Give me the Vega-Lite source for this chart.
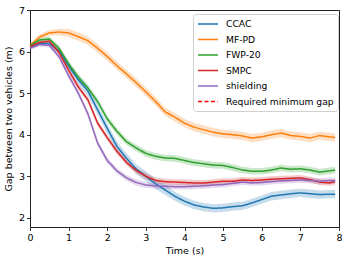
{
  "$schema": "https://vega.github.io/schema/vega-lite/v6.json",
  "width": 309,
  "height": 217,
  "autosize": {"type": "none"},
  "padding": {"left": 30, "top": 10, "right": 10, "bottom": 33},
  "config": {
    "font": "DejaVu Sans",
    "view": {"stroke": "#222", "strokeWidth": 1},
    "legend": {
      "orient": "none", "legendX": 163, "legendY": 4,
      "strokeColor": "#d0d0d0", "fillColor": "rgba(255,255,255,0.85)", "cornerRadius": 3,
      "padding": 4, "labelFontSize": 9.2, "labelFont": "DejaVu Sans", "labelColor": "#000",
      "symbolType": "M-1,0H3", "symbolSize": 100, "symbolStrokeWidth": 1.6,
      "labelOffset": 17, "rowPadding": 3.5
    }
  },
  "datasets": {
    "d": [
      {"s":"CCAC","t":0,"y":6.10,"lo":6.06,"hi":6.14},
      {"s":"CCAC","t":0.25,"y":6.20,"lo":6.15,"hi":6.25},
      {"s":"CCAC","t":0.5,"y":6.19,"lo":6.14,"hi":6.24},
      {"s":"CCAC","t":0.75,"y":6.02,"lo":5.95,"hi":6.09},
      {"s":"CCAC","t":1,"y":5.65,"lo":5.55,"hi":5.75},
      {"s":"CCAC","t":1.25,"y":5.32,"lo":5.20,"hi":5.44},
      {"s":"CCAC","t":1.5,"y":5.05,"lo":4.93,"hi":5.17},
      {"s":"CCAC","t":1.75,"y":4.60,"lo":4.48,"hi":4.72},
      {"s":"CCAC","t":2,"y":4.15,"lo":4.03,"hi":4.27},
      {"s":"CCAC","t":2.25,"y":3.72,"lo":3.60,"hi":3.84},
      {"s":"CCAC","t":2.5,"y":3.43,"lo":3.31,"hi":3.55},
      {"s":"CCAC","t":2.75,"y":3.17,"lo":3.05,"hi":3.29},
      {"s":"CCAC","t":3,"y":3.00,"lo":2.88,"hi":3.12},
      {"s":"CCAC","t":3.25,"y":2.82,"lo":2.70,"hi":2.94},
      {"s":"CCAC","t":3.5,"y":2.67,"lo":2.55,"hi":2.79},
      {"s":"CCAC","t":3.75,"y":2.52,"lo":2.41,"hi":2.63},
      {"s":"CCAC","t":4,"y":2.40,"lo":2.29,"hi":2.51},
      {"s":"CCAC","t":4.25,"y":2.31,"lo":2.21,"hi":2.41},
      {"s":"CCAC","t":4.5,"y":2.26,"lo":2.16,"hi":2.36},
      {"s":"CCAC","t":4.75,"y":2.23,"lo":2.13,"hi":2.33},
      {"s":"CCAC","t":5,"y":2.24,"lo":2.14,"hi":2.34},
      {"s":"CCAC","t":5.25,"y":2.27,"lo":2.17,"hi":2.37},
      {"s":"CCAC","t":5.5,"y":2.29,"lo":2.19,"hi":2.39},
      {"s":"CCAC","t":5.75,"y":2.36,"lo":2.26,"hi":2.46},
      {"s":"CCAC","t":6,"y":2.44,"lo":2.34,"hi":2.54},
      {"s":"CCAC","t":6.25,"y":2.52,"lo":2.42,"hi":2.62},
      {"s":"CCAC","t":6.5,"y":2.55,"lo":2.45,"hi":2.65},
      {"s":"CCAC","t":6.75,"y":2.58,"lo":2.48,"hi":2.68},
      {"s":"CCAC","t":7,"y":2.60,"lo":2.50,"hi":2.70},
      {"s":"CCAC","t":7.25,"y":2.58,"lo":2.48,"hi":2.68},
      {"s":"CCAC","t":7.5,"y":2.56,"lo":2.46,"hi":2.66},
      {"s":"CCAC","t":7.75,"y":2.57,"lo":2.47,"hi":2.67},
      {"s":"CCAC","t":7.9,"y":2.57,"lo":2.47,"hi":2.67},

      {"s":"MF-PD","t":0,"y":6.15,"lo":6.11,"hi":6.19},
      {"s":"MF-PD","t":0.25,"y":6.35,"lo":6.29,"hi":6.41},
      {"s":"MF-PD","t":0.5,"y":6.45,"lo":6.38,"hi":6.52},
      {"s":"MF-PD","t":0.75,"y":6.47,"lo":6.39,"hi":6.55},
      {"s":"MF-PD","t":1,"y":6.45,"lo":6.35,"hi":6.55},
      {"s":"MF-PD","t":1.25,"y":6.36,"lo":6.26,"hi":6.46},
      {"s":"MF-PD","t":1.5,"y":6.26,"lo":6.16,"hi":6.36},
      {"s":"MF-PD","t":1.75,"y":6.08,"lo":5.98,"hi":6.18},
      {"s":"MF-PD","t":2,"y":5.88,"lo":5.78,"hi":5.98},
      {"s":"MF-PD","t":2.25,"y":5.66,"lo":5.56,"hi":5.76},
      {"s":"MF-PD","t":2.5,"y":5.46,"lo":5.36,"hi":5.56},
      {"s":"MF-PD","t":2.75,"y":5.25,"lo":5.15,"hi":5.35},
      {"s":"MF-PD","t":3,"y":5.03,"lo":4.93,"hi":5.13},
      {"s":"MF-PD","t":3.25,"y":4.80,"lo":4.70,"hi":4.90},
      {"s":"MF-PD","t":3.5,"y":4.55,"lo":4.45,"hi":4.65},
      {"s":"MF-PD","t":3.75,"y":4.42,"lo":4.32,"hi":4.52},
      {"s":"MF-PD","t":4,"y":4.28,"lo":4.18,"hi":4.38},
      {"s":"MF-PD","t":4.25,"y":4.18,"lo":4.08,"hi":4.28},
      {"s":"MF-PD","t":4.5,"y":4.12,"lo":4.02,"hi":4.22},
      {"s":"MF-PD","t":4.75,"y":4.06,"lo":3.96,"hi":4.16},
      {"s":"MF-PD","t":5,"y":4.02,"lo":3.92,"hi":4.12},
      {"s":"MF-PD","t":5.25,"y":4.00,"lo":3.90,"hi":4.10},
      {"s":"MF-PD","t":5.5,"y":3.97,"lo":3.87,"hi":4.07},
      {"s":"MF-PD","t":5.75,"y":3.92,"lo":3.82,"hi":4.02},
      {"s":"MF-PD","t":6,"y":3.95,"lo":3.85,"hi":4.05},
      {"s":"MF-PD","t":6.25,"y":4.00,"lo":3.90,"hi":4.10},
      {"s":"MF-PD","t":6.5,"y":4.04,"lo":3.94,"hi":4.14},
      {"s":"MF-PD","t":6.75,"y":3.98,"lo":3.88,"hi":4.08},
      {"s":"MF-PD","t":7,"y":3.96,"lo":3.86,"hi":4.06},
      {"s":"MF-PD","t":7.25,"y":3.92,"lo":3.82,"hi":4.02},
      {"s":"MF-PD","t":7.5,"y":3.98,"lo":3.88,"hi":4.08},
      {"s":"MF-PD","t":7.75,"y":3.95,"lo":3.85,"hi":4.05},
      {"s":"MF-PD","t":7.9,"y":3.93,"lo":3.83,"hi":4.03},

      {"s":"FWP-20","t":0,"y":6.15,"lo":6.11,"hi":6.19},
      {"s":"FWP-20","t":0.25,"y":6.28,"lo":6.23,"hi":6.33},
      {"s":"FWP-20","t":0.5,"y":6.30,"lo":6.24,"hi":6.36},
      {"s":"FWP-20","t":0.75,"y":6.08,"lo":6.01,"hi":6.15},
      {"s":"FWP-20","t":1,"y":5.70,"lo":5.62,"hi":5.78},
      {"s":"FWP-20","t":1.25,"y":5.38,"lo":5.30,"hi":5.46},
      {"s":"FWP-20","t":1.5,"y":5.12,"lo":5.04,"hi":5.20},
      {"s":"FWP-20","t":1.75,"y":4.80,"lo":4.72,"hi":4.88},
      {"s":"FWP-20","t":2,"y":4.38,"lo":4.30,"hi":4.46},
      {"s":"FWP-20","t":2.25,"y":4.08,"lo":4.00,"hi":4.16},
      {"s":"FWP-20","t":2.5,"y":3.83,"lo":3.75,"hi":3.91},
      {"s":"FWP-20","t":2.75,"y":3.68,"lo":3.60,"hi":3.76},
      {"s":"FWP-20","t":3,"y":3.55,"lo":3.47,"hi":3.63},
      {"s":"FWP-20","t":3.25,"y":3.48,"lo":3.40,"hi":3.56},
      {"s":"FWP-20","t":3.5,"y":3.44,"lo":3.36,"hi":3.52},
      {"s":"FWP-20","t":3.75,"y":3.43,"lo":3.35,"hi":3.51},
      {"s":"FWP-20","t":4,"y":3.38,"lo":3.30,"hi":3.46},
      {"s":"FWP-20","t":4.25,"y":3.33,"lo":3.25,"hi":3.41},
      {"s":"FWP-20","t":4.5,"y":3.30,"lo":3.22,"hi":3.38},
      {"s":"FWP-20","t":4.75,"y":3.27,"lo":3.19,"hi":3.35},
      {"s":"FWP-20","t":5,"y":3.26,"lo":3.18,"hi":3.34},
      {"s":"FWP-20","t":5.25,"y":3.21,"lo":3.13,"hi":3.29},
      {"s":"FWP-20","t":5.5,"y":3.15,"lo":3.07,"hi":3.23},
      {"s":"FWP-20","t":5.75,"y":3.12,"lo":3.04,"hi":3.20},
      {"s":"FWP-20","t":6,"y":3.12,"lo":3.04,"hi":3.20},
      {"s":"FWP-20","t":6.25,"y":3.15,"lo":3.07,"hi":3.23},
      {"s":"FWP-20","t":6.5,"y":3.20,"lo":3.12,"hi":3.28},
      {"s":"FWP-20","t":6.75,"y":3.17,"lo":3.09,"hi":3.25},
      {"s":"FWP-20","t":7,"y":3.18,"lo":3.10,"hi":3.26},
      {"s":"FWP-20","t":7.25,"y":3.15,"lo":3.07,"hi":3.23},
      {"s":"FWP-20","t":7.5,"y":3.10,"lo":3.02,"hi":3.18},
      {"s":"FWP-20","t":7.75,"y":3.13,"lo":3.05,"hi":3.21},
      {"s":"FWP-20","t":7.9,"y":3.15,"lo":3.07,"hi":3.23},

      {"s":"SMPC","t":0,"y":6.12,"lo":6.08,"hi":6.16},
      {"s":"SMPC","t":0.25,"y":6.22,"lo":6.17,"hi":6.27},
      {"s":"SMPC","t":0.5,"y":6.25,"lo":6.20,"hi":6.30},
      {"s":"SMPC","t":0.75,"y":5.98,"lo":5.92,"hi":6.04},
      {"s":"SMPC","t":1,"y":5.55,"lo":5.48,"hi":5.62},
      {"s":"SMPC","t":1.25,"y":5.15,"lo":5.08,"hi":5.22},
      {"s":"SMPC","t":1.5,"y":4.84,"lo":4.77,"hi":4.91},
      {"s":"SMPC","t":1.75,"y":4.28,"lo":4.21,"hi":4.35},
      {"s":"SMPC","t":2,"y":3.93,"lo":3.86,"hi":4.00},
      {"s":"SMPC","t":2.25,"y":3.60,"lo":3.53,"hi":3.67},
      {"s":"SMPC","t":2.5,"y":3.33,"lo":3.26,"hi":3.40},
      {"s":"SMPC","t":2.75,"y":3.14,"lo":3.07,"hi":3.21},
      {"s":"SMPC","t":3,"y":3.00,"lo":2.93,"hi":3.07},
      {"s":"SMPC","t":3.25,"y":2.90,"lo":2.83,"hi":2.97},
      {"s":"SMPC","t":3.5,"y":2.87,"lo":2.80,"hi":2.94},
      {"s":"SMPC","t":3.75,"y":2.86,"lo":2.79,"hi":2.93},
      {"s":"SMPC","t":4,"y":2.85,"lo":2.78,"hi":2.92},
      {"s":"SMPC","t":4.25,"y":2.84,"lo":2.77,"hi":2.91},
      {"s":"SMPC","t":4.5,"y":2.84,"lo":2.77,"hi":2.91},
      {"s":"SMPC","t":4.75,"y":2.86,"lo":2.79,"hi":2.93},
      {"s":"SMPC","t":5,"y":2.88,"lo":2.81,"hi":2.95},
      {"s":"SMPC","t":5.25,"y":2.88,"lo":2.81,"hi":2.95},
      {"s":"SMPC","t":5.5,"y":2.91,"lo":2.84,"hi":2.98},
      {"s":"SMPC","t":5.75,"y":2.90,"lo":2.83,"hi":2.97},
      {"s":"SMPC","t":6,"y":2.91,"lo":2.84,"hi":2.98},
      {"s":"SMPC","t":6.25,"y":2.93,"lo":2.86,"hi":3.00},
      {"s":"SMPC","t":6.5,"y":2.94,"lo":2.87,"hi":3.01},
      {"s":"SMPC","t":6.75,"y":2.95,"lo":2.88,"hi":3.02},
      {"s":"SMPC","t":7,"y":2.96,"lo":2.89,"hi":3.03},
      {"s":"SMPC","t":7.25,"y":2.92,"lo":2.85,"hi":2.99},
      {"s":"SMPC","t":7.5,"y":2.86,"lo":2.79,"hi":2.93},
      {"s":"SMPC","t":7.75,"y":2.84,"lo":2.77,"hi":2.91},
      {"s":"SMPC","t":7.9,"y":2.87,"lo":2.80,"hi":2.94},

      {"s":"shielding","t":0,"y":6.08,"lo":6.04,"hi":6.12},
      {"s":"shielding","t":0.25,"y":6.17,"lo":6.12,"hi":6.22},
      {"s":"shielding","t":0.5,"y":6.15,"lo":6.10,"hi":6.20},
      {"s":"shielding","t":0.75,"y":5.88,"lo":5.82,"hi":5.94},
      {"s":"shielding","t":1,"y":5.42,"lo":5.35,"hi":5.49},
      {"s":"shielding","t":1.25,"y":5.00,"lo":4.93,"hi":5.07},
      {"s":"shielding","t":1.5,"y":4.50,"lo":4.43,"hi":4.57},
      {"s":"shielding","t":1.75,"y":3.80,"lo":3.73,"hi":3.87},
      {"s":"shielding","t":2,"y":3.38,"lo":3.31,"hi":3.45},
      {"s":"shielding","t":2.25,"y":3.13,"lo":3.06,"hi":3.20},
      {"s":"shielding","t":2.5,"y":2.96,"lo":2.89,"hi":3.03},
      {"s":"shielding","t":2.75,"y":2.85,"lo":2.78,"hi":2.92},
      {"s":"shielding","t":3,"y":2.79,"lo":2.72,"hi":2.86},
      {"s":"shielding","t":3.25,"y":2.77,"lo":2.70,"hi":2.84},
      {"s":"shielding","t":3.5,"y":2.76,"lo":2.69,"hi":2.83},
      {"s":"shielding","t":3.75,"y":2.75,"lo":2.68,"hi":2.82},
      {"s":"shielding","t":4,"y":2.75,"lo":2.68,"hi":2.82},
      {"s":"shielding","t":4.25,"y":2.76,"lo":2.69,"hi":2.83},
      {"s":"shielding","t":4.5,"y":2.77,"lo":2.70,"hi":2.84},
      {"s":"shielding","t":4.75,"y":2.79,"lo":2.72,"hi":2.86},
      {"s":"shielding","t":5,"y":2.80,"lo":2.73,"hi":2.87},
      {"s":"shielding","t":5.25,"y":2.83,"lo":2.76,"hi":2.90},
      {"s":"shielding","t":5.5,"y":2.86,"lo":2.79,"hi":2.93},
      {"s":"shielding","t":5.75,"y":2.84,"lo":2.77,"hi":2.91},
      {"s":"shielding","t":6,"y":2.85,"lo":2.78,"hi":2.92},
      {"s":"shielding","t":6.25,"y":2.87,"lo":2.80,"hi":2.94},
      {"s":"shielding","t":6.5,"y":2.89,"lo":2.82,"hi":2.96},
      {"s":"shielding","t":6.75,"y":2.90,"lo":2.83,"hi":2.97},
      {"s":"shielding","t":7,"y":2.91,"lo":2.84,"hi":2.98},
      {"s":"shielding","t":7.25,"y":2.90,"lo":2.83,"hi":2.97},
      {"s":"shielding","t":7.5,"y":2.88,"lo":2.81,"hi":2.95},
      {"s":"shielding","t":7.75,"y":2.90,"lo":2.83,"hi":2.97},
      {"s":"shielding","t":7.9,"y":2.89,"lo":2.82,"hi":2.96}
    ],
    "gap": [{"s": "Required minimum gap", "g": 2}]
  },
  "encoding": {
    "x": {"field": "t", "type": "quantitative", "title": "Time (s)",
      "scale": {"domain": [0, 8], "nice": false},
      "axis": {"grid": false, "domain": false, "tickSize": 3.5, "tickColor": "#000", "tickWidth": 0.8,
        "labelFontSize": 9.5, "titleFontSize": 9.5, "titleFontWeight": "normal", "labelColor": "#000", "titleColor": "#000",
        "labelFlush": false, "labelOverlap": false, "labelPadding": 2, "titlePadding": 3, "tickCount": 8}}
  },
  "layer": [
    {
      "data": {"name": "d"},
      "mark": {"type": "area", "opacity": 0.25},
      "encoding": {
        "y": {"field": "lo", "type": "quantitative", "title": "Gap between two vehicles (m)",
          "scale": {"domain": [1.78, 7], "nice": false, "zero": false},
          "axis": {"grid": false, "domain": false, "tickSize": 3.5, "tickColor": "#000", "tickWidth": 0.8,
            "labelFontSize": 9.5, "titleFontSize": 9.5, "titleFontWeight": "normal", "labelColor": "#000", "titleColor": "#000",
            "labelPadding": 2, "titlePadding": 5, "tickCount": 6}},
        "y2": {"field": "hi"},
        "fill": {"field": "s", "type": "nominal", "legend": null,
          "scale": {"domain": ["CCAC","MF-PD","FWP-20","SMPC","shielding"], "range": ["#1f77b4","#ff7f0e","#2ca02c","#d62728","#9467bd"]}},
        "detail": {"field": "s"}
      }
    },
    {
      "data": {"name": "d"},
      "mark": {"type": "line", "strokeWidth": 1.5},
      "encoding": {
        "y": {"field": "y", "type": "quantitative", "title": "Gap between two vehicles (m)"},
        "color": {"field": "s", "type": "nominal", "title": null,
          "scale": {"domain": ["CCAC","MF-PD","FWP-20","SMPC","shielding","Required minimum gap"], "range": ["#1f77b4","#ff7f0e","#2ca02c","#d62728","#9467bd","#ff0000"]}},
        "strokeDash": {"field": "s", "type": "nominal", "title": null,
          "scale": {"domain": ["CCAC","MF-PD","FWP-20","SMPC","shielding","Required minimum gap"], "range": [[1,0],[1,0],[1,0],[1,0],[1,0],[4,2.5]]}}
      }
    },
    {
      "data": {"name": "gap"},
      "mark": {"type": "rule", "strokeWidth": 1.5},
      "encoding": {
        "x": {"datum": 0, "type": "quantitative"},
        "x2": {"datum": 8},
        "y": {"field": "g", "type": "quantitative", "title": "Gap between two vehicles (m)"},
        "color": {"field": "s", "type": "nominal", "title": null},
        "strokeDash": {"field": "s", "type": "nominal", "title": null}
      }
    }
  ]
}
